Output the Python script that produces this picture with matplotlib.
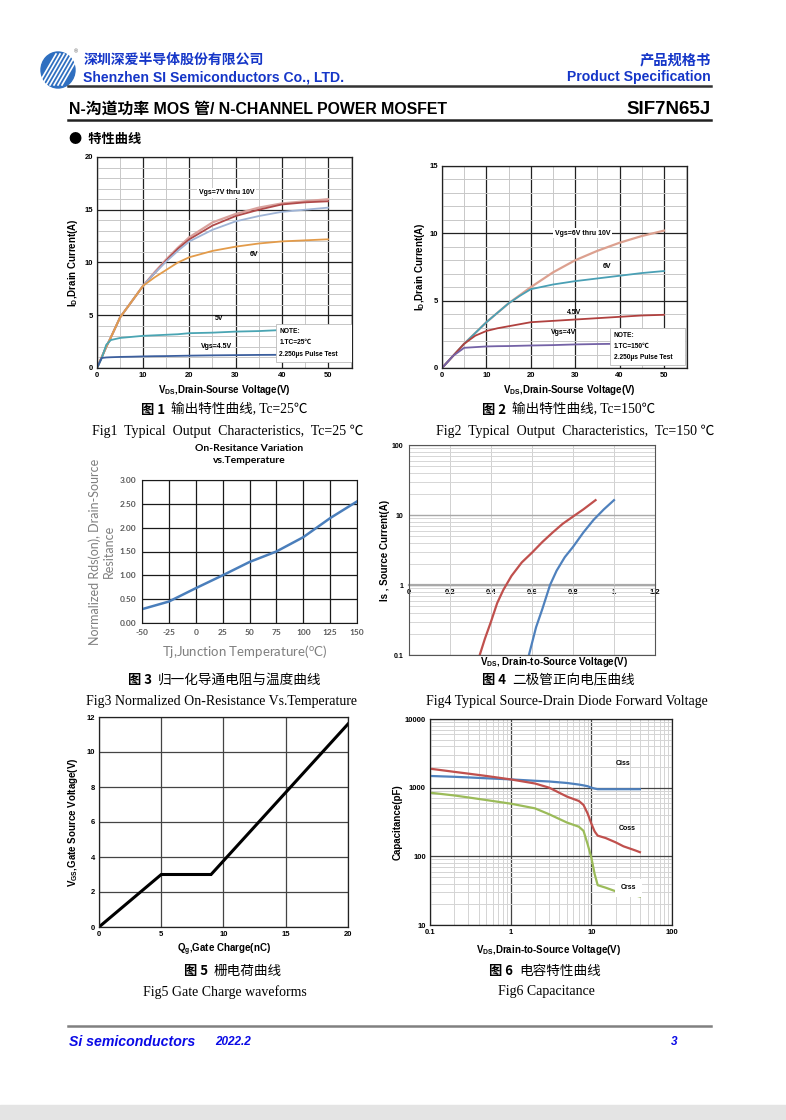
import numpy as np
import matplotlib
matplotlib.use("Agg")
import matplotlib.pyplot as plt
from matplotlib.patches import Rectangle, Ellipse
from matplotlib.ticker import FixedLocator, NullFormatter, MultipleLocator

plt.rcParams["font.family"] = ["Liberation Sans", "Noto Sans CJK SC"]
plt.rcParams["mathtext.fontset"] = "custom"
plt.rcParams["mathtext.rm"] = "Liberation Sans"
plt.rcParams["mathtext.bf"] = "Liberation Sans:bold"
plt.rcParams["axes.unicode_minus"] = False

# ---- data ----
# fig1: output characteristics, Tc=25C
f1_vds = [0, 1, 2, 3, 5, 7.5, 10, 12.5, 15, 17.5, 20, 25, 30, 35, 40, 45, 50]
f1_vgs10 = [0, 1.0, 2.0, 2.9, 4.8, 6.3, 7.8, 9.1, 10.3, 11.4, 12.4, 13.8, 14.6, 15.2, 15.6, 15.8, 16.0]
f1_vgs8 = [0, 1.0, 2.0, 2.9, 4.8, 6.3, 7.8, 9.0, 10.2, 11.3, 12.2, 13.5, 14.4, 15.0, 15.5, 15.7, 15.8]
f1_vgs7 = [0, 1.0, 2.0, 2.9, 4.8, 6.3, 7.8, 9.0, 10.1, 11.1, 12.0, 13.1, 13.9, 14.4, 14.8, 15.0, 15.2]
f1_vgs6 = [0, 1.0, 2.0, 2.9, 4.8, 6.3, 7.8, 8.6, 9.3, 10.0, 10.5, 11.1, 11.5, 11.8, 12.0, 12.1, 12.2]
f1_vgs5 = [0, 0.9, 2.2, 2.65, 2.85, 2.95, 3.05, 3.1, 3.15, 3.2, 3.3, 3.35, 3.45, 3.5, 3.6, 3.6, 3.65]
f1_vgs45 = [0, 0.95, 1.0, 1.02, 1.05, 1.07, 1.1, 1.12, 1.13, 1.15, 1.17, 1.2, 1.22, 1.24, 1.25, 1.27, 1.28]

# fig2: output characteristics, Tc=150C
f2_vds = [0, 2.5, 5, 7.5, 10, 12.5, 15, 17.5, 20, 25, 30, 35, 40, 45, 50]
f2_vgs6 = [0, 0.9, 1.8, 2.6, 3.4, 4.1, 4.8, 5.4, 6.0, 7.1, 8.0, 8.7, 9.3, 9.8, 10.2]
f2_vgs5 = [0, 0.9, 1.8, 2.6, 3.4, 4.1, 4.8, 5.35, 5.85, 6.2, 6.45, 6.65, 6.85, 7.05, 7.2]
f2_vgs45 = [0, 0.9, 1.8, 2.4, 2.75, 2.95, 3.1, 3.25, 3.4, 3.5, 3.6, 3.7, 3.8, 3.9, 3.95]
f2_vgs4 = [0, 0.9, 1.5, 1.55, 1.6, 1.62, 1.63, 1.65, 1.67, 1.7, 1.75, 1.78, 1.8, 1.82, 1.84]

# fig3: normalized on-resistance
f3_tj = [-50, -25, 0, 25, 50, 75, 100, 125, 150]
f3_rds = [0.29, 0.45, 0.73, 1.0, 1.28, 1.5, 1.8, 2.2, 2.55]

# fig4: diode forward voltage
f4_v_hot = [0.345, 0.37, 0.40, 0.43, 0.46, 0.50, 0.55, 0.60, 0.65, 0.70, 0.75, 0.80, 0.85, 0.91]
f4_i_hot = [0.1, 0.17, 0.3, 0.55, 0.85, 1.35, 2.1, 2.9, 4.1, 5.6, 7.5, 9.5, 12, 16.3]
f4_v_cold = [0.585, 0.62, 0.65, 0.688, 0.72, 0.76, 0.80, 0.85, 0.90, 0.95, 1.0]
f4_i_cold = [0.1, 0.25, 0.45, 1.0, 1.6, 2.5, 3.5, 5.6, 8.5, 12, 16.3]

# fig5: gate charge
f5_qg = [0, 5, 9, 20]
f5_vgs = [0, 3, 3, 11.6]

# fig6: capacitance
f6_vds = [0.1, 0.2, 0.3, 0.5, 1, 2, 3, 5, 7, 8, 9, 10, 11, 12, 15, 20, 25, 30, 35, 40]
f6_ciss = [1480, 1440, 1410, 1370, 1320, 1260, 1230, 1170, 1110, 1080, 1050, 1000, 970, 950, 950, 950, 950, 950, 950, 950]
f6_coss = [1890, 1700, 1600, 1480, 1320, 1150, 1000, 740, 640, 560, 420, 300, 230, 200, 185, 160, 140, 130, 122, 115]
f6_crss = [845, 770, 720, 660, 585, 500, 410, 310, 270, 235, 150, 96, 55, 38, 35, 31, 29, 28, 27, 26]

W, H = 786, 1120
fig = plt.figure(figsize=(W / 100, H / 100), dpi=100)

def px_axes(l, t, r, b):
    return fig.add_axes([l / W, 1 - b / H, (r - l) / W, (b - t) / H])

def ftext(x, y, s, **kw):
    kw.setdefault("va", "center")
    return fig.text(x / W, 1 - y / H, s, **kw)

def hline(y, x0, x1, color, lw):
    fig.add_artist(plt.Line2D([x0 / W, x1 / W], [1 - y / H, 1 - y / H], color=color, lw=lw))

cjk = ["Noto Sans CJK SC", "Liberation Sans"]
serif = ["Liberation Serif", "Noto Sans CJK SC"]
blue = "#1536c8"

# ---- header ----
lax = px_axes(38, 48, 82, 90)
lax.set_xlim(0, 44)
lax.set_ylim(0, 42)
lax.axis("off")
lax.add_patch(Ellipse((20, 20), 34, 36, color="#2f6fc0"))
for k in range(-3, 4):
    lax.plot([12 + k * 4, 30 + k * 4], [5, 36], color="white", lw=1.2)
lax.text(38, 38, "®", fontsize=4, color="#555555", ha="center", va="center")

ftext(84, 60, "深圳深爱半导体股份有限公司", fontsize=10, fontweight="bold", color=blue, family=cjk)
ftext(83, 77, "Shenzhen SI Semiconductors Co., LTD.", fontsize=10.1, fontweight="bold", color=blue)
ftext(711, 60, "产品规格书", fontsize=10.3, fontweight="bold", color=blue, ha="right", family=cjk)
ftext(711, 77, "Product Specification", fontsize=10.1, fontweight="bold", color=blue, ha="right")
hline(86, 68, 711, "#333333", 1.8)
ftext(69, 109, "N-沟道功率 MOS 管/ N-CHANNEL POWER MOSFET", fontsize=11.4, fontweight="bold",
      family=["Liberation Sans", "Noto Sans CJK SC"])
ftext(711, 109, "SIF7N65J", fontsize=13.5, fontweight="bold", ha="right")
hline(120, 68, 711, "#222222", 1.8)
ftext(69, 139, "●  特性曲线", fontsize=9.5, fontweight="bold", family=cjk)

# ---- footer ----
hline(1026, 68, 711, "#808080", 1.8)
ftext(69, 1042, "Si semiconductors", fontsize=10.2, fontweight="bold", style="italic", color="#0a0ae6")
ftext(215, 1042, "2022.2", fontsize=8.5, fontweight="bold", style="italic", color="#0a0ae6")
ftext(677, 1042, "3", fontsize=8.5, fontweight="bold", style="italic", color="#0a0ae6", ha="right")
fig.add_artist(Rectangle((0, 0), 1, 15 / H, transform=fig.transFigure, color="#e4e4e4"))

# ---- captions ----
def caption(xc, y, num, cn, en, xcn):
    ftext(xcn, y, "图 " + num, fontsize=9.5, fontweight="bold", family=["Noto Sans CJK SC"])
    ftext(xcn + 30, y, cn, fontsize=9.8, family=["Liberation Serif", "Noto Sans CJK SC"])
    ftext(xc, y + 21, en, fontsize=10, family=serif, ha="center")

caption(228, 410, "1", "输出特性曲线, Tc=25℃", "Fig1  Typical  Output  Characteristics,  Tc=25 ℃", 141)
caption(575, 410, "2", "输出特性曲线, Tc=150℃", "Fig2  Typical  Output  Characteristics,  Tc=150 ℃", 482)
caption(221, 680, "3", "归一化导通电阻与温度曲线", "Fig3 Normalized On-Resistance Vs.Temperature", 128)
caption(567, 680, "4", "二极管正向电压曲线", "Fig4 Typical Source-Drain Diode Forward Voltage", 482)
caption(225, 971, "5", "栅电荷曲线", "Fig5 Gate Charge waveforms", 184)
caption(546, 971, "6", "电容特性曲线", "Fig6 Capacitance", 489)

def grid_style(ax, major="#222222", minor="#c8c8c8"):
    ax.set_axisbelow(True)
    ax.grid(which="major", color=major, lw=0.9)
    ax.grid(which="minor", color=minor, lw=0.7)
    ax.tick_params(which="both", length=0, labelsize=5.5, pad=3)
    for lab in ax.get_xticklabels() + ax.get_yticklabels():
        lab.set_fontweight("bold")
    for s in ax.spines.values():
        s.set_color("#222222")
        s.set_linewidth(0.9)

def note(ax, x0, y0, w, h, tc):
    ax.add_patch(Rectangle((x0, y0), w, h, facecolor="white", edgecolor="#bbbbbb", lw=0.6, zorder=5))
    ax.text(x0 + 0.8, y0 + h * 0.8, "NOTE:", fontsize=4.8, fontweight="bold", va="center", zorder=6)
    ax.text(x0 + 0.8, y0 + h * 0.5, "1.TC=" + tc, fontsize=4.8, fontweight="bold", va="center", zorder=6,
            family=["Liberation Sans", "Noto Sans CJK SC"])
    ax.text(x0 + 0.8, y0 + h * 0.2, "2.250µs Pulse Test", fontsize=4.8, fontweight="bold", va="center", zorder=6)

lbl_box = dict(facecolor="white", edgecolor="none", pad=1.2)

# ---- fig1 ----
ax1 = px_axes(97, 157, 352, 368)
ax1.plot(f1_vds, f1_vgs10, color="#d9a19c", lw=1.6)
ax1.plot(f1_vds, f1_vgs8, color="#b04a4a", lw=1.3)
ax1.plot(f1_vds, f1_vgs7, color="#9fb4d6", lw=1.3)
ax1.plot(f1_vds, f1_vgs6, color="#e39b4a", lw=1.3)
ax1.plot(f1_vds, f1_vgs5, color="#4aa5b3", lw=1.3)
ax1.plot(f1_vds, f1_vgs45, color="#3c5f9e", lw=1.3)
ax1.set_xlim(0, 55.2)
ax1.set_ylim(0, 20)
ax1.set_xticks(range(0, 51, 10))
ax1.xaxis.set_minor_locator(FixedLocator([5, 15, 25, 35, 45, 55]))
ax1.set_yticks(range(0, 21, 5))
ax1.yaxis.set_minor_locator(MultipleLocator(1))
grid_style(ax1)
ax1.text(28, 16.6, "Vgs=7V thru 10V", fontsize=5, fontweight="bold", ha="center", va="center", bbox=lbl_box, zorder=4)
ax1.text(34, 10.8, "6V", fontsize=5, fontweight="bold", ha="center", va="center")
ax1.text(26.5, 4.66, "5V", fontsize=5, fontweight="bold", ha="center", va="center")
ax1.text(25.8, 2.05, "Vgs=4.5V", fontsize=5, fontweight="bold", ha="center", va="center")
note(ax1, 38.7, 0.6, 16.5, 3.6, "25℃")
ax1.set_xlabel(r"V$_{\mathbf{DS}}$,Drain-Sourse Voltage(V)", fontsize=7, fontweight="bold", va="center")
ax1.set_ylabel(r"I$_{\mathbf{D}}$,Drain Current(A)", fontsize=7, fontweight="bold", va="center")
ax1.xaxis.set_label_coords(0.5, -0.104)
ax1.yaxis.set_label_coords(-0.094, 0.5)

# ---- fig2 ----
ax2 = px_axes(442, 166, 687, 368)
ax2.plot(f2_vds, f2_vgs6, color="#dca08f", lw=1.6)
ax2.plot(f2_vds, f2_vgs5, color="#4aa0b5", lw=1.3)
ax2.plot(f2_vds, f2_vgs45, color="#b0413f", lw=1.3)
ax2.plot(f2_vds, f2_vgs4, color="#7462a6", lw=1.3)
ax2.set_xlim(0, 55.2)
ax2.set_ylim(0, 15)
ax2.set_xticks(range(0, 51, 10))
ax2.xaxis.set_minor_locator(FixedLocator([5, 15, 25, 35, 45, 55]))
ax2.set_yticks(range(0, 16, 5))
ax2.yaxis.set_minor_locator(MultipleLocator(1))
grid_style(ax2)
ax2.text(31.6, 10.0, "Vgs=6V thru 10V", fontsize=5, fontweight="bold", ha="center", va="center", bbox=lbl_box, zorder=4)
ax2.text(37.2, 7.5, "6V", fontsize=5, fontweight="bold", ha="center", va="center")
ax2.text(29.7, 4.15, "4.5V", fontsize=5, fontweight="bold", ha="center", va="center")
ax2.text(27.3, 2.6, "Vgs=4V", fontsize=5, fontweight="bold", ha="center", va="center")
note(ax2, 37.9, 0.25, 16.8, 2.75, "150℃")
ax2.set_xlabel(r"V$_{\mathbf{DS}}$,Drain-Sourse Voltage(V)", fontsize=7, fontweight="bold", va="center")
ax2.set_ylabel(r"I$_{\mathbf{D}}$,Drain Current(A)", fontsize=7, fontweight="bold", va="center")
ax2.xaxis.set_label_coords(0.52, -0.109)
ax2.yaxis.set_label_coords(-0.09, 0.5)

# ---- fig3 ----
ax3 = px_axes(142, 480, 357, 623)
ax3.plot(f3_tj, f3_rds, color="#4a7ebb", lw=1.8)
ax3.set_xlim(-50, 150)
ax3.set_ylim(0, 3)
ax3.set_xticks(f3_tj)
ax3.set_yticks(np.arange(0, 3.01, 0.5))
ax3.set_yticklabels(["0.00", "0.50", "1.00", "1.50", "2.00", "2.50", "3.00"])
ax3.set_axisbelow(True)
ax3.grid(color="#1a1a1a", lw=0.9)
ax3.tick_params(length=0, labelsize=6, labelcolor="#595959", pad=4)
for lab in ax3.get_xticklabels() + ax3.get_yticklabels():
    lab.set_fontweight("bold")
    lab.set_family("Lato")
for s in ax3.spines.values():
    s.set_color("#1a1a1a")
ax3.set_title("On-Resitance Variation\nvs.Temperature", fontsize=7.5, fontweight="bold", family="Lato",
              linespacing=1.5, pad=12)
ax3.set_xlabel(r"Tj,Junction Temperature($^{\mathregular{o}}$C)", fontsize=9.5, color="#7f7f7f",
               family="Lato", va="center")
ax3.set_ylabel("Normalized Rds(on), Drain-Source\nResitance", fontsize=9, color="#7f7f7f",
               family="Lato", va="center", linespacing=1.25)
ax3.xaxis.set_label_coords(0.48, -0.2)
ax3.yaxis.set_label_coords(-0.188, 0.5)

# ---- fig4 ----
ax4 = px_axes(409, 445, 655, 655)
ax4.plot(f4_v_hot, f4_i_hot, color="#c0504d", lw=1.6)
ax4.plot(f4_v_cold, f4_i_cold, color="#4f81bd", lw=1.6)
ax4.set_yscale("log")
ax4.set_xlim(0, 1.2)
ax4.set_ylim(0.1, 100)
ax4.set_xticks(np.arange(0, 1.21, 0.2))
ax4.xaxis.set_major_formatter(NullFormatter())
ax4.set_yticks([0.1, 1, 10, 100])
ax4.set_yticklabels(["0.1", "1", "10", "100"])
ax4.yaxis.set_minor_formatter(NullFormatter())
ax4.set_axisbelow(True)
ax4.grid(which="major", axis="y", color="#a8a8a8", lw=1.0)
ax4.grid(which="minor", axis="y", color="#d6d6d6", lw=0.7)
ax4.grid(which="major", axis="x", color="#d0d0d0", lw=0.7)
ax4.tick_params(which="both", length=0, labelsize=5, pad=4)
for lab in ax4.get_yticklabels():
    lab.set_fontweight("bold")
for s in ax4.spines.values():
    s.set_color("#555555")
    s.set_linewidth(0.8)
sec = ax4.secondary_xaxis(1 / 3)
sec.set_xticks(np.arange(0, 1.21, 0.2))
sec.set_xticklabels(["0", "0.2", "0.4", "0.6", "0.8", "1", "1.2"], fontweight="bold")
sec.tick_params(length=0, labelsize=5.5, pad=3)
sec.spines["bottom"].set_color("#aaaaaa")
sec.spines["bottom"].set_linewidth(1.6)
ax4.set_xlabel(r"V$_{\mathbf{DS}}$, Drain-to-Source Voltage(V)", fontsize=7, fontweight="bold", va="center")
ax4.set_ylabel("Is , Source Current(A)", fontsize=7, fontweight="bold", va="center")
ax4.xaxis.set_label_coords(0.59, -0.035)
ax4.yaxis.set_label_coords(-0.098, 0.5)

# ---- fig5 ----
ax5 = px_axes(99, 717, 348, 927)
ax5.plot(f5_qg, f5_vgs, color="black", lw=2.2, solid_joinstyle="miter")
ax5.set_xlim(0, 20)
ax5.set_ylim(0, 12)
ax5.set_xticks(range(0, 21, 5))
ax5.set_yticks(range(0, 13, 2))
grid_style(ax5, major="#444444")
ax5.set_xlabel(r"Q$_{\mathbf{g}}$,Gate Charge(nC)", fontsize=7, fontweight="bold", va="center")
ax5.set_ylabel(r"V$_{\mathbf{GS}}$,Gate Source Voltage(V)", fontsize=7, fontweight="bold", va="center")
ax5.xaxis.set_label_coords(0.5, -0.11)
ax5.yaxis.set_label_coords(-0.104, 0.5)

# ---- fig6 ----
ax6 = px_axes(430, 719, 672, 925)
ax6.plot(f6_vds, f6_ciss, color="#4f81bd", lw=1.6)
ax6.plot(f6_vds, f6_coss, color="#c0504d", lw=1.6)
ax6.plot(f6_vds, f6_crss, color="#9bbb59", lw=1.6)
ax6.set_xscale("log")
ax6.set_yscale("log")
ax6.set_xlim(0.1, 100)
ax6.set_ylim(10, 10000)
ax6.set_xticks([0.1, 1, 10, 100])
ax6.set_xticklabels(["0.1", "1", "10", "100"])
ax6.set_yticks([10, 100, 1000, 10000])
ax6.set_yticklabels(["10", "100", "1000", "10000"])
ax6.xaxis.set_minor_formatter(NullFormatter())
ax6.yaxis.set_minor_formatter(NullFormatter())
grid_style(ax6, major="#444444", minor="#d4d4d4")
ax6.text(24.6, 2275, "Ciss", fontsize=5, fontweight="bold", ha="center", va="center")
ax6.text(27.5, 257, "Coss", fontsize=5, fontweight="bold", ha="center", va="center")
ax6.text(29, 35, "Crss", fontsize=5, fontweight="bold", ha="center", va="center",
         bbox=dict(facecolor="white", edgecolor="none", pad=4), zorder=4)
ax6.set_xlabel(r"V$_{\mathbf{DS}}$,Drain-to-Source Voltage(V)", fontsize=7, fontweight="bold", va="center")
ax6.set_ylabel("Capacitance(pF)", fontsize=7, fontweight="bold", va="center")
ax6.xaxis.set_label_coords(0.49, -0.121)
ax6.yaxis.set_label_coords(-0.132, 0.5)

fig.savefig("out.png", dpi=100, facecolor="white")
